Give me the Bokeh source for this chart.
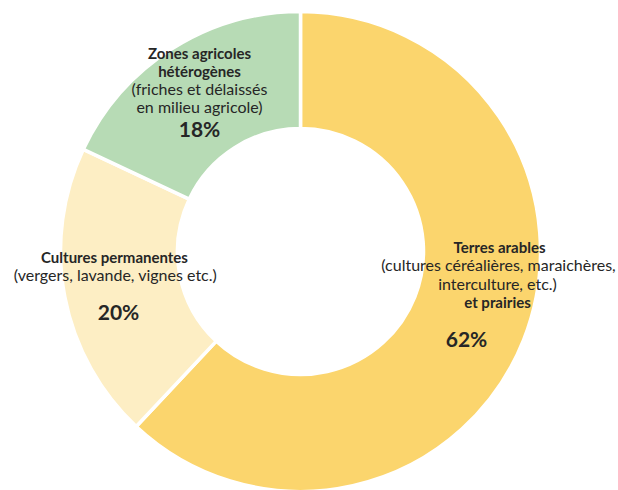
import numpy as np
from bokeh.plotting import figure
from bokeh.models import Range1d, ColumnDataSource
from bokeh.core.properties import value
from bokeh.embed import file_html
from bokeh.resources import INLINE

# ---- data ----
categories = ["Terres arables", "Cultures permanentes", "Zones agricoles hétérogènes"]
shares = [62, 20, 18]
colors = ["#FBD56D", "#FDEEC4", "#B7DBB5"]
pct_labels = ["62%", "20%", "18%"]

# ---- geometry (pixel-like data units) ----
W, H = 618, 490
X0, Y0 = 0, 0  # page offset of the figure's top-left corner as photographed
p = figure(width=W, height=H, output_backend="svg", toolbar_location=None,
           x_range=Range1d(X0, X0 + W), y_range=Range1d(490 - Y0 - H, 490 - Y0),
           min_border=0, outline_line_color=None)
p.axis.visible = False
p.grid.visible = False
p.background_fill_color = "white"
p.border_fill_color = "white"

cx, cy = 300, 490 - 251
r_in, r_out = 123, 240

frac = np.array(shares, dtype=float) / sum(shares)
cum = np.concatenate([[0], np.cumsum(frac)])
start = np.pi / 2 - 2 * np.pi * cum[:-1]
end = np.pi / 2 - 2 * np.pi * cum[1:]

src = ColumnDataSource(dict(start=start, end=end, color=colors, cat=categories))
p.annular_wedge(x=cx, y=cy, inner_radius=r_in, outer_radius=r_out,
                start_angle="start", end_angle="end", direction="clock",
                fill_color="color", line_color="white", line_width=3.5, source=src)

FONT = "Lato"
TXT = "#262626"

def line(x, y, s, bold=False, size=None):
    if size is None:
        size = "15px" if bold else "16px"
    p.text(x=[x], y=[490 - y], text=[s], text_font=value(FONT),
           text_font_size=size, text_font_style="bold" if bold else "normal",
           text_color=TXT, text_align="center", text_baseline="middle")

# Zones agricoles hétérogènes
line(199, 52, "Zones agricoles", bold=True)
line(199, 70, "hétérogènes", bold=True)
line(199, 88, "(friches et délaissés")
line(199, 106, "en milieu agricole)")
line(199, 128, pct_labels[2], bold=True, size="21px")

# Cultures permanentes
line(114, 256, "Cultures permanentes", bold=True)
line(115, 274, "(vergers, lavande, vignes etc.)")
line(118, 311, pct_labels[1], bold=True, size="21px")

# Terres arables
line(499, 246, "Terres arables", bold=True)
line(498, 264, "(cultures céréalières, maraichères,")
line(497, 283, "interculture, etc.)")
line(497, 301, "et prairies", bold=True)
line(466, 338, pct_labels[0], bold=True, size="21px")

open("out.html", "w").write(file_html(p, INLINE))
